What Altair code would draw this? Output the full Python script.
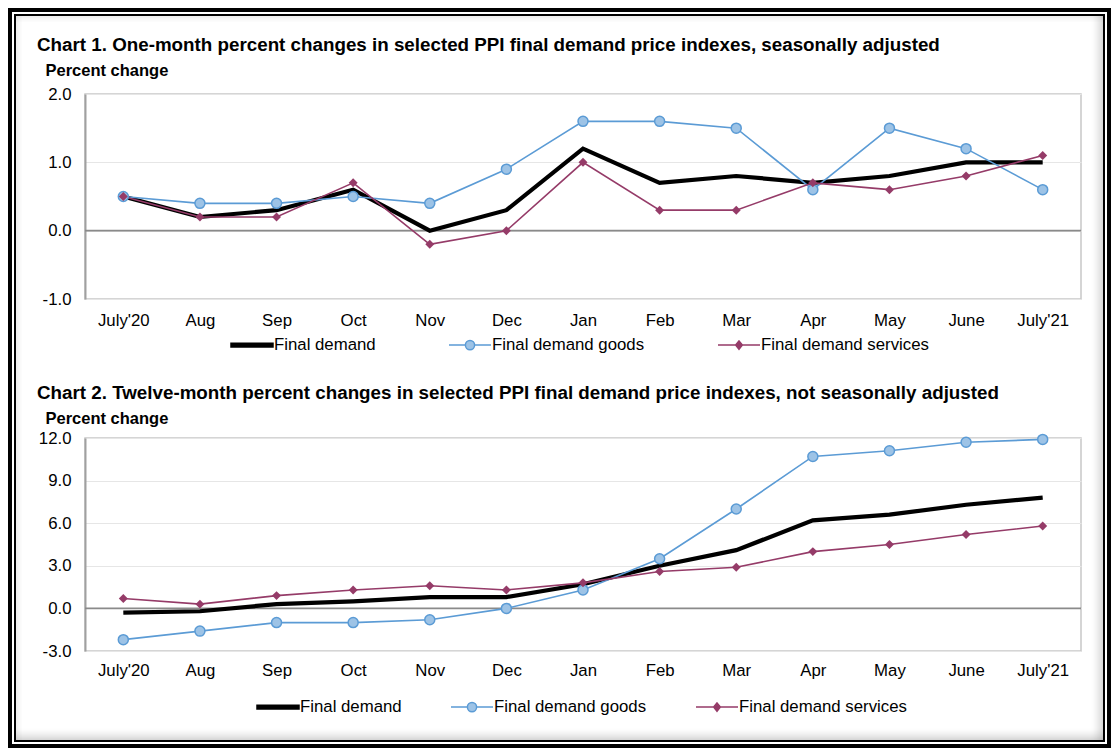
import altair as alt
import pandas as pd

# ---------------- data ----------------
months = ["July'20", "Aug", "Sep", "Oct", "Nov", "Dec", "Jan", "Feb", "Mar",
          "Apr", "May", "June", "July'21"]
series_names = ["Final demand", "Final demand goods", "Final demand services"]

# Chart 1: one-month percent changes, seasonally adjusted
m1_final = [0.5, 0.2, 0.3, 0.6, 0.0, 0.3, 1.2, 0.7, 0.8, 0.7, 0.8, 1.0, 1.0]
m1_goods = [0.5, 0.4, 0.4, 0.5, 0.4, 0.9, 1.6, 1.6, 1.5, 0.6, 1.5, 1.2, 0.6]
m1_services = [0.5, 0.2, 0.2, 0.7, -0.2, 0.0, 1.0, 0.3, 0.3, 0.7, 0.6, 0.8, 1.1]

# Chart 2: twelve-month percent changes, not seasonally adjusted
y12_final = [-0.3, -0.2, 0.3, 0.5, 0.8, 0.8, 1.7, 3.0, 4.1, 6.2, 6.6, 7.3, 7.8]
y12_goods = [-2.2, -1.6, -1.0, -1.0, -0.8, 0.0, 1.3, 3.5, 7.0, 10.7, 11.1, 11.7, 11.9]
y12_services = [0.7, 0.3, 0.9, 1.3, 1.6, 1.3, 1.8, 2.6, 2.9, 4.0, 4.5, 5.2, 5.8]

chart1_ticks = [-1.0, 0.0, 1.0, 2.0]
chart2_ticks = [-3.0, 0.0, 3.0, 6.0, 9.0, 12.0]
chart1_title = "Chart 1. One-month percent changes in selected PPI final demand price indexes, seasonally adjusted"
chart2_title = "Chart 2. Twelve-month percent changes in selected PPI final demand price indexes, not seasonally adjusted"
y_title = "Percent change"

# ---------------- styles ----------------
FONT = "Liberation Sans"
BLACK = "#000000"
BLUE = "#5B9BD5"
BLUE_FILL = "#9DC3E6"
PURPLE = "#953B68"
stroke_colors = [BLACK, BLUE, PURPLE]
fill_colors = [BLACK, BLUE_FILL, PURPLE]
legend_paths = [
    "M-1,-0.09L1,-0.09L1,0.09L-1,0.09Z",
    "M-1,0L-0.22,0M0.22,0L1,0M-0.22,0A0.22,0.22 0 1 1 0.22,0A0.22,0.22 0 1 1 -0.22,0Z",
    "M-1,0L1,0M0,-0.2L0.16,0L0,0.2L-0.16,0Z",
]

PANEL_W = 996
SPACING = 139
FRAME_H = 1
# page position of the first plot's top-left corner
P1_X, P1_Y = 85, 94
# page position of the (invisible) frame panel's origin
FX0, FY0 = P1_X, 10
OUTER_SPACING = P1_Y - FY0 - FRAME_H


def fx(v):
    return v - FX0


def fy(v):
    return v - FY0


def make_df(final, goods, services):
    rows = []
    for name, vals in zip(series_names, [final, goods, services]):
        for m, v in zip(months, vals):
            rows.append({"month": m, "series": name, "value": v})
    return pd.DataFrame(rows)


def frame_panel():
    """Decorative double frame with a soft inner shadow."""
    one = pd.DataFrame({"k": [0]})
    layers = []
    n = 12
    for i in range(n):
        op = 0.30 * (1 - i / n) ** 1.6
        layers.append(alt.Chart(one).mark_rule(color="#7a7a7a", strokeWidth=1, opacity=op).encode(
            x=alt.value(fx(1102.5 - i)), y=alt.value(fy(16)), y2=alt.value(fy(740))))
        layers.append(alt.Chart(one).mark_rule(color="#7a7a7a", strokeWidth=1, opacity=op).encode(
            x=alt.value(fx(16)), x2=alt.value(fx(1103)), y=alt.value(fy(739.5 - i))))
    m = 6
    for i in range(m):
        op = 0.12 * (1 - i / m)
        layers.append(alt.Chart(one).mark_rule(color="#7a7a7a", strokeWidth=1, opacity=op).encode(
            x=alt.value(fx(16.5 + i)), y=alt.value(fy(16)), y2=alt.value(fy(740))))
        layers.append(alt.Chart(one).mark_rule(color="#7a7a7a", strokeWidth=1, opacity=op).encode(
            x=alt.value(fx(16)), x2=alt.value(fx(1103)), y=alt.value(fy(16.5 + i))))
    layers.append(alt.Chart(one).mark_rect(fill=None, stroke=BLACK, strokeWidth=4).encode(
        x=alt.value(fx(10)), x2=alt.value(fx(1109)), y=alt.value(fy(10)), y2=alt.value(fy(746))))
    layers.append(alt.Chart(one).mark_rect(fill=None, stroke=BLACK, strokeWidth=2).encode(
        x=alt.value(fx(15)), x2=alt.value(fx(1104)), y=alt.value(fy(15)), y2=alt.value(fy(741))))
    return alt.layer(*layers).properties(
        width=PANEL_W, height=FRAME_H, view=alt.ViewBackground(strokeOpacity=0))


def panel(df, ticks, title_text, title_y, x_pad, leg_x, leg_y, col_pad, height):
    x_enc = alt.X("month:N", sort=months,
                  scale=alt.Scale(type="point", padding=0.5),
                  axis=alt.Axis(title=None, labelAngle=0, ticks=False, domain=False, grid=False,
                                labelPadding=x_pad, labelFontSize=16.8, labelFont=FONT,
                                labelColor=BLACK))
    y_enc = alt.Y("value:Q",
                  scale=alt.Scale(domain=[ticks[0], ticks[-1]], nice=False, zero=False),
                  axis=alt.Axis(values=ticks,
                                labelExpr="replace(format(datum.value, '.1f'), '\u2212', '-')",
                                ticks=False, labelPadding=14,
                                labelFontSize=16.8, labelFont=FONT, labelColor=BLACK,
                                grid=True, gridColor="#e6e6e6", gridWidth=1,
                                domain=True, domainColor="#a0a0a0", domainWidth=2,
                                title=y_title, titleAngle=0, titleAlign="left",
                                titleBaseline="middle", titleX=-40, titleY=title_y,
                                titleFont=FONT, titleFontSize=16.5, titleFontWeight="bold",
                                titleColor=BLACK))

    zero = alt.Chart(pd.DataFrame({"value": [0.0]})).mark_rule(
        color="#8a8a8a", strokeWidth=1.6).encode(y=y_enc)

    base = alt.Chart(df).encode(x=x_enc, y=y_enc)
    line_final = base.transform_filter(alt.datum.series == series_names[0]).mark_line(
        color=BLACK, strokeWidth=4.2)
    line_goods = base.transform_filter(alt.datum.series == series_names[1]).mark_line(
        color=BLUE, strokeWidth=1.6)
    line_serv = base.transform_filter(alt.datum.series == series_names[2]).mark_line(
        color=PURPLE, strokeWidth=1.6)
    pts_goods = base.transform_filter(alt.datum.series == series_names[1]).mark_point(
        shape="circle", filled=True, fill=BLUE_FILL, stroke=BLUE, strokeWidth=1.5,
        size=100, opacity=1)
    pts_serv = base.transform_filter(alt.datum.series == series_names[2]).mark_point(
        shape="diamond", filled=True, color=PURPLE, size=80, opacity=1)

    leg = alt.Legend(title=None, orient="none", legendX=leg_x, legendY=leg_y,
                     direction="horizontal", symbolSize=1764, symbolStrokeWidth=1.5,
                     labelFontSize=16.8, labelFont=FONT, labelColor=BLACK, labelOffset=0,
                     labelLimit=400, columnPadding=col_pad, padding=0)
    legend_layer = base.transform_filter("false").mark_point(filled=False, opacity=1).encode(
        color=alt.Color("series:N", scale=alt.Scale(domain=series_names, range=stroke_colors),
                        legend=leg),
        fill=alt.Fill("series:N", scale=alt.Scale(domain=series_names, range=fill_colors),
                      legend=leg),
        shape=alt.Shape("series:N", scale=alt.Scale(domain=series_names, range=legend_paths),
                        legend=leg),
    )

    layers = [zero, line_final, line_goods, line_serv, pts_goods, pts_serv, legend_layer]
    return alt.layer(*layers).properties(
        width=PANEL_W, height=height,
        title=alt.TitleParams(title_text, anchor="start", frame="group", dx=-48, offset=7,
                              font=FONT, fontSize=18.8, fontWeight="bold", color=BLACK),
    )


df1 = make_df(m1_final, m1_goods, m1_services)
df2 = make_df(y12_final, y12_goods, y12_services)

p1 = panel(df1, chart1_ticks, chart1_title, -24, 13, 145, 229, 70, 205)
p2 = panel(df2, chart2_ticks, chart2_title, -20, 11, 171, 247, 46, 213)

charts = alt.vconcat(p1, p2, spacing=SPACING, bounds="flush").resolve_scale(
    color="independent", fill="independent", shape="independent"
).resolve_legend(
    color="independent", fill="independent", shape="independent"
)

chart = alt.vconcat(frame_panel(), charts, spacing=OUTER_SPACING, bounds="flush").properties(
    padding=0, background="white"
).configure_view(
    stroke="#c8c8c8", strokeWidth=1.5
)

chart.save("out.html", embed_options={"renderer": "svg", "actions": False})
